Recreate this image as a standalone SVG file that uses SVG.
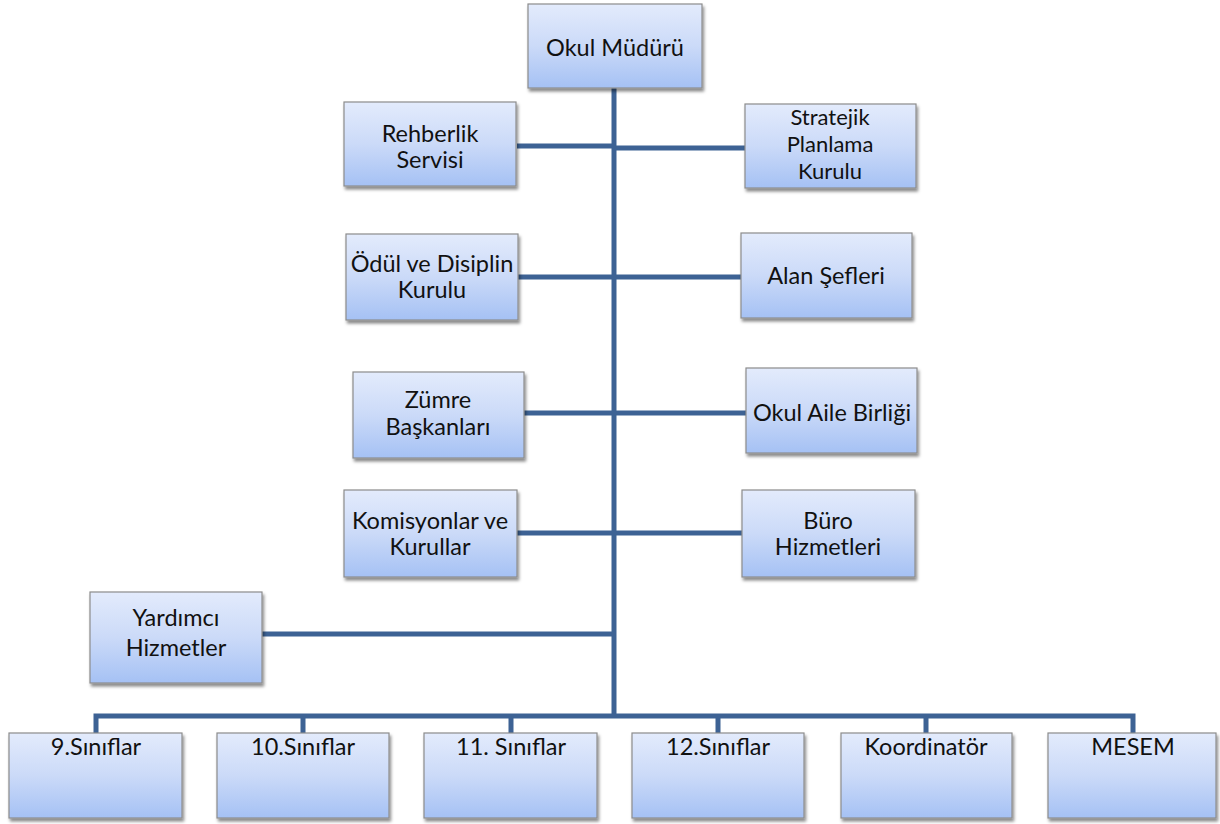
<svg xmlns="http://www.w3.org/2000/svg" width="1220" height="824" viewBox="0 0 1220 824">
<defs>
<linearGradient id="g" x1="0" y1="0" x2="0" y2="1">
<stop offset="0" stop-color="#e3ebfc"/>
<stop offset="0.5" stop-color="#cbdaf8"/>
<stop offset="1" stop-color="#a5c1f4"/>
</linearGradient>
<filter id="sh" x="-10%" y="-10%" width="125%" height="130%">
<feDropShadow dx="1.5" dy="3" stdDeviation="1.8" flood-color="#000" flood-opacity="0.45"/>
</filter>
</defs>
<style>
.box{fill:url(#g);stroke:#8c8c8c;stroke-width:1.2;filter:url(#sh)}
.t{font-family:Lato,"Liberation Sans",sans-serif;font-size:23.5px;fill:#111;text-anchor:middle}
.s{font-size:22px}
.c{stroke:#3d6294;stroke-width:5;fill:none;stroke-linejoin:miter}
</style>
<rect width="1220" height="824" fill="#fff"/>
<g id="connectors">
<path class="c" d="M614 88V716"/>
<path class="c" d="M517 146H614M614 148H745"/>
<path class="c" d="M518 277H741"/>
<path class="c" d="M524 413H746"/>
<path class="c" d="M517 533H742"/>
<path class="c" d="M262 634H614"/>
<path class="c" d="M96 734V716H1133V734"/>
<path class="c" d="M303 716V734M511 716V734M718 716V734M926 716V734"/>
</g>
<g id="okul-muduru"><rect class="box" x="528" y="4" width="174" height="84"/><text class="t" x="615" y="56">Okul Müdürü</text></g>
<g id="rehberlik"><rect class="box" x="344" y="102" width="172" height="84"/><text class="t" x="430" y="142">Rehberlik</text><text class="t" x="430" y="168">Servisi</text></g>
<g id="stratejik"><rect class="box" x="745" y="104" width="171" height="84"/><text class="t s" x="830" y="125">Stratejik</text><text class="t s" x="830" y="152">Planlama</text><text class="t s" x="830" y="179">Kurulu</text></g>
<g id="odul"><rect class="box" x="346" y="234" width="172" height="86"/><text class="t" x="432" y="272">Ödül ve Disiplin</text><text class="t" x="432" y="298">Kurulu</text></g>
<g id="alan"><rect class="box" x="741" y="233" width="171" height="85"/><text class="t" x="826" y="284">Alan Şefleri</text></g>
<g id="zumre"><rect class="box" x="353" y="372" width="171" height="86"/><text class="t" x="438" y="408">Zümre</text><text class="t" x="438" y="435">Başkanları</text></g>
<g id="okul-aile"><rect class="box" x="746" y="368" width="171" height="85"/><text class="t" x="832" y="421">Okul Aile Birliği</text></g>
<g id="komisyonlar"><rect class="box" x="344" y="490" width="173" height="87"/><text class="t" x="430" y="529">Komisyonlar ve</text><text class="t" x="430" y="555">Kurullar</text></g>
<g id="buro"><rect class="box" x="742" y="490" width="173" height="87"/><text class="t" x="828" y="529">Büro</text><text class="t" x="828" y="555">Hizmetleri</text></g>
<g id="yardimci"><rect class="box" x="90" y="592" width="172" height="91"/><text class="t" x="176" y="626">Yardımcı</text><text class="t" x="176" y="656">Hizmetler</text></g>
<g id="s9"><rect class="box" x="9" y="733" width="173" height="85"/><text class="t" x="96" y="755">9.Sınıflar</text></g>
<g id="s10"><rect class="box" x="217" y="733" width="172" height="85"/><text class="t" x="303" y="755">10.Sınıflar</text></g>
<g id="s11"><rect class="box" x="424" y="733" width="173" height="85"/><text class="t" x="511" y="755">11. Sınıflar</text></g>
<g id="s12"><rect class="box" x="632" y="733" width="172" height="85"/><text class="t" x="718" y="755">12.Sınıflar</text></g>
<g id="koordinator"><rect class="box" x="841" y="733" width="171" height="85"/><text class="t" x="926" y="755">Koordinatör</text></g>
<g id="mesem"><rect class="box" x="1048" y="733" width="168" height="85"/><text class="t" x="1133" y="755">MESEM</text></g>
</svg>
